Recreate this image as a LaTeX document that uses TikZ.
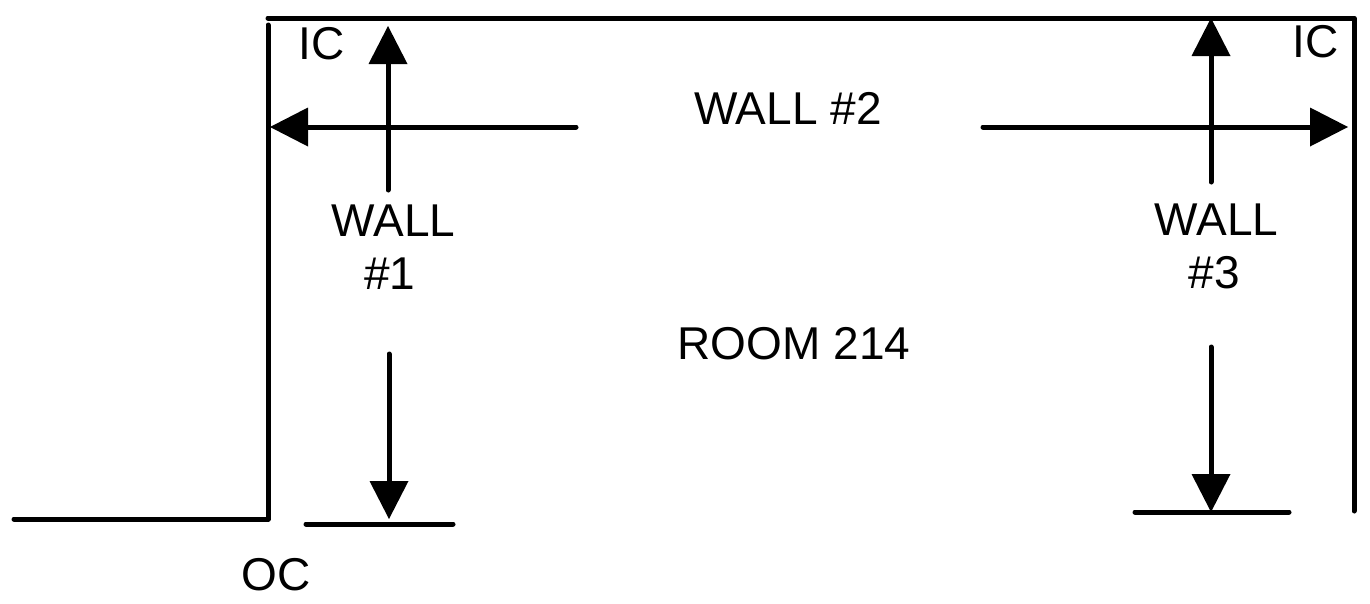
\documentclass[tikz,border=0pt]{standalone}
\usepackage{fontspec}
\setmainfont{Liberation Sans}
\usetikzlibrary{arrows.meta}
\tikzset{
 wall/.style={line width=5pt, draw=black, line cap=round, line join=round},
 dim/.style={line width=5pt, draw=black, line cap=round, -{Triangle[width=39pt,length=38pt,line width=0pt,sharp]}},
 lbl/.style={font=\fontsize{46pt}{46pt}\selectfont, inner sep=0pt, text=black, anchor=center, align=center}
}
\begin{document}
\begin{tikzpicture}[x=1pt,y=-1pt]
\useasboundingbox (0,0) rectangle (1370,603);
\node[lbl] (ic1) at (321.5,44) {IC};
\node[lbl] (ic2) at (1315.5,42) {IC};
\node[lbl] (w2) at (788,108) {WALL \#2};
\node[lbl] (w1a) at (393.5,221) {WALL};
\node[lbl] (w1b) at (390,274) {\#1};
\node[lbl] (w3a) at (1216.5,220) {WALL};
\node[lbl] (w3b) at (1214.5,273) {\#3};
\node[lbl] (room) at (794,344) {ROOM 214};
\node[lbl] (oc) at (276,575) {OC};
\coordinate (a) at (14,519);
\coordinate (b) at (268,519);
\coordinate (c) at (268,25);
\coordinate (d) at (268,18);
\coordinate (e) at (1354,18);
\coordinate (f) at (1354,511);
\draw[wall] (a) -- (b) -- (c);
\draw[wall] (d) -- (e) -- (f);
\coordinate (g1) at (306,524); \coordinate (g2) at (453,524);
\draw[wall] (g1) -- (g2);
\coordinate (h1) at (1135,512); \coordinate (h2) at (1289,512);
\draw[wall] (h1) -- (h2);
\coordinate (l1) at (576,127); \coordinate (l2) at (270,127);
\draw[dim] (l1) -- (l2);
\coordinate (r1) at (983,127); \coordinate (r2) at (1348,127);
\draw[dim] (r1) -- (r2);
\coordinate (u1) at (388,190); \coordinate (u2) at (388,26);
\draw[dim] (u1) -- (u2);
\coordinate (v1) at (389,354); \coordinate (v2) at (389,519);
\draw[dim] (v1) -- (v2);
\coordinate (x1) at (1211,182); \coordinate (x2) at (1211,18);
\draw[dim] (x1) -- (x2);
\coordinate (y1) at (1211,347); \coordinate (y2) at (1211,512);
\draw[dim] (y1) -- (y2);
\end{tikzpicture}
\end{document}
